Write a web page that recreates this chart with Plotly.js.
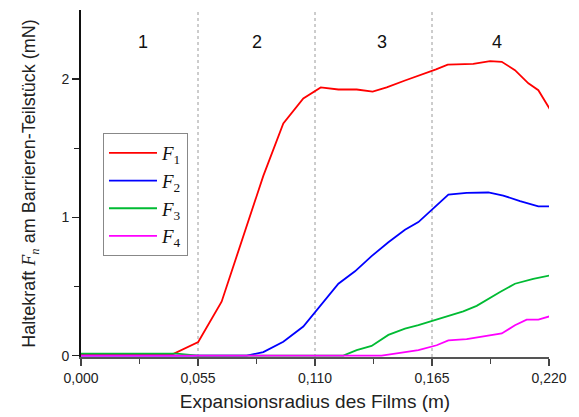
<!DOCTYPE html>
<html>
<head>
<meta charset="utf-8">
<script src="https://cdn.plot.ly/plotly-3.0.1.min.js"></script>
<style>
  html, body { margin: 0; padding: 0; background: #fff; }
  #chart { width: 579px; height: 417px; }
</style>
</head>
<body>
<div id="chart"></div>
<script>
// Holding force on the barrier segment vs. film expansion radius
const xF1 = [0, 0.020, 0.043, 0.0551, 0.0661, 0.0857, 0.0951, 0.1045, 0.1127, 0.121, 0.1296, 0.1371, 0.1437, 0.1523, 0.1601, 0.1669, 0.1724, 0.1844, 0.1923, 0.1978, 0.204, 0.2103, 0.215, 0.2205];
const yF1 = [0.01, 0.01, 0.01, 0.098, 0.39, 1.30, 1.68, 1.86, 1.94, 1.925, 1.925, 1.91, 1.94, 1.99, 2.03, 2.07, 2.105, 2.11, 2.13, 2.125, 2.065, 1.97, 1.92, 1.78];

const xF2 = [0, 0.040, 0.0779, 0.0857, 0.0951, 0.1045, 0.1116, 0.121, 0.1288, 0.1366, 0.1445, 0.1523, 0.1586, 0.1672, 0.1727, 0.1813, 0.1915, 0.1985, 0.2064, 0.215, 0.2205];
const yF2 = [0, 0, 0, 0.025, 0.10, 0.21, 0.34, 0.52, 0.61, 0.72, 0.82, 0.91, 0.966, 1.09, 1.165, 1.177, 1.18, 1.158, 1.117, 1.08, 1.08];

const xF3 = [0, 0.020, 0.045, 0.055, 0.080, 0.1233, 0.1296, 0.1366, 0.1445, 0.1523, 0.1586, 0.1672, 0.1727, 0.1797, 0.186, 0.1923, 0.197, 0.204, 0.2126, 0.2205];
const yF3 = [0.015, 0.015, 0.015, 0, 0, 0, 0.04, 0.07, 0.15, 0.195, 0.22, 0.26, 0.285, 0.32, 0.36, 0.42, 0.46, 0.52, 0.555, 0.58];

const xF4 = [0, 0.070, 0.1413, 0.15, 0.1586, 0.1672, 0.1727, 0.1813, 0.1907, 0.1978, 0.204, 0.2095, 0.215, 0.2205];
const yF4 = [0, 0, 0, 0.02, 0.04, 0.075, 0.11, 0.12, 0.14, 0.16, 0.22, 0.26, 0.26, 0.285];

const seriesNames = ['1', '2', '3', '4'];
const seriesColors = ['#ff0000', '#0000ff', '#00bb33', '#ff00ff'];

// Region boundaries and region labels
const regionBounds = [0.055, 0.110, 0.165];
const regionLabels = ['1', '2', '3', '4'];
const regionLabelX = [0.0291, 0.0827, 0.1415, 0.1956];
const regionLabelY = 2.27;

const xTicks = [0, 0.055, 0.110, 0.165, 0.220];
const xTickText = ['0,000', '0,055', '0,110', '0,165', '0,220'];
const yTicks = [0, 1, 2];

const serif = '"Liberation Serif", "DejaVu Serif", serif';
const sans = '"Liberation Sans", Arial, sans-serif';

const xs = [xF1, xF2, xF3, xF4];
const ys = [yF1, yF2, yF3, yF4];

const traces = xs.map((x, i) => ({
  type: 'scatter',
  mode: 'lines',
  x: x,
  y: ys[i],
  name: '<i>F</i><sub>' + seriesNames[i] + '</sub>',
  line: { color: seriesColors[i], width: 1.8 }
}));

const shapes = regionBounds.map(b => ({
  type: 'line', xref: 'x', yref: 'paper',
  x0: b, x1: b, y0: 0, y1: 1,
  line: { color: '#9a9a9a', width: 1, dash: 'dot' },
  layer: 'below'
}));

const annotations = regionLabels.map((t, i) => ({
  x: regionLabelX[i], y: regionLabelY, xref: 'x', yref: 'y',
  text: t, showarrow: false,
  font: { family: sans, size: 18, color: '#111' }
}));

const layout = {
  width: 579, height: 417,
  margin: { l: 81, r: 30, t: 10, b: 60 },
  paper_bgcolor: '#fff', plot_bgcolor: '#fff',
  showlegend: true,
  legend: {
    x: 0.047, y: 0.6455, xanchor: 'left', yanchor: 'top',
    bgcolor: '#fff', bordercolor: '#888', borderwidth: 1,
    font: { family: serif, size: 19, color: '#111' },
    itemwidth: 48
  },
  xaxis: {
    range: [0, 0.22],
    tickvals: xTicks, ticktext: xTickText,
    ticks: 'outside', ticklen: 7, tickwidth: 1.5, tickcolor: '#444',
    minor: { dtick: 0.0275, tick0: 0, ticks: 'outside', ticklen: 5, tickcolor: '#444', tickwidth: 1.5, showgrid: false },
    showgrid: false, zeroline: false,
    showline: true, linecolor: '#555', linewidth: 2, layer: 'below traces',
    tickfont: { family: sans, size: 14, color: '#222' },
    title: { text: 'Expansionsradius des Films (m)', font: { family: sans, size: 19, color: '#222' }, standoff: 10 }
  },
  yaxis: {
    range: [-0.01, 2.5],
    tickvals: yTicks,
    ticks: 'outside', ticklen: 7, tickwidth: 1.5, tickcolor: '#222',
    minor: { tickvals: [0.5, 1.5], ticks: 'outside', ticklen: 5, tickcolor: '#222', tickwidth: 1.5, showgrid: false },
    showgrid: false, zeroline: false,
    showline: true, linecolor: '#111', linewidth: 2, layer: 'below traces',
    tickfont: { family: sans, size: 14, color: '#222' },
    title: {
      text: 'Haltekraft <span style="font-family:\'Liberation Serif\', serif"><i>F</i></span><sub><i style="font-family:\'Liberation Serif\', serif">n</i></sub> am Barrieren-Teilstück (mN)',
      font: { family: sans, size: 18, color: '#222' }, standoff: 21
    }
  },
  shapes: shapes,
  annotations: annotations
};

Plotly.newPlot('chart', traces, layout, { displayModeBar: false, staticPlot: true });
</script>
</body>
</html>
